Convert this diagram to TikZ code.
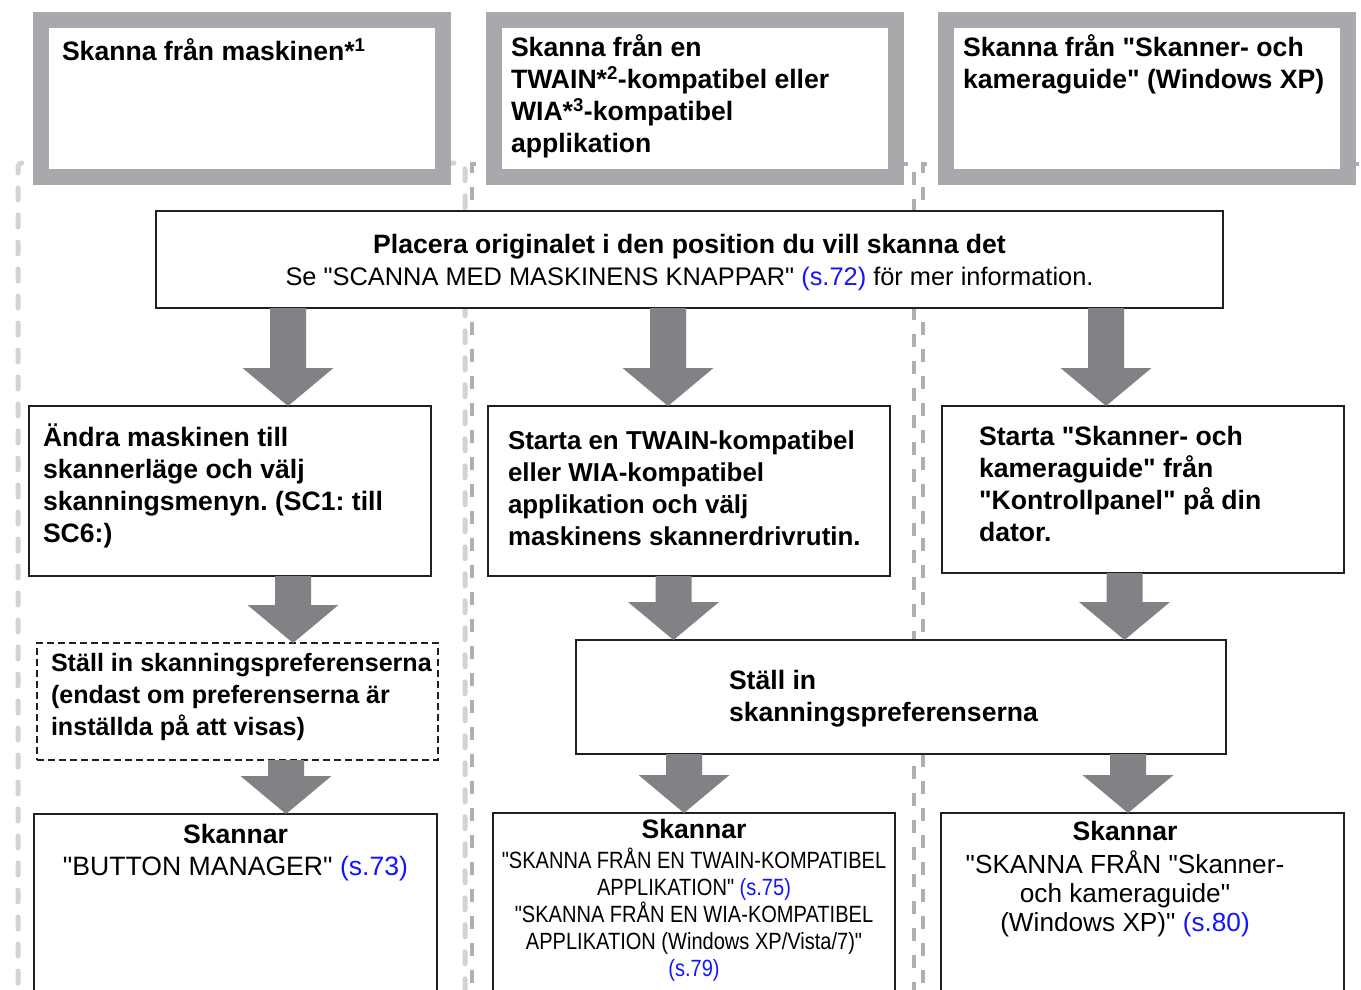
\documentclass[tikz,border=0pt]{standalone}
\usepackage{fontspec}
\setmainfont{Liberation Sans}
\newfontfamily\plainsans{Liberation Sans}
\newfontfamily\condfont[FakeStretch=0.853]{Liberation Sans}
\usetikzlibrary{calc}
\frenchspacing
\definecolor{framegray}{HTML}{A7A9AC}
\definecolor{arrowgray}{HTML}{808285}
\definecolor{boxline}{HTML}{231F20}
\definecolor{lightdash}{HTML}{D1D3D4}
\definecolor{middash}{HTML}{ADAFB2}
\definecolor{link}{RGB}{20,20,255}
\newcommand\fr{\plainsans\frenchspacing\fontsize{26.6}{32}\selectfont}
\newcommand\fb{\plainsans\frenchspacing\fontsize{26.6}{32}\selectfont\bfseries}
\newcommand\fbmid{\plainsans\frenchspacing\fontsize{25.9}{32}\selectfont\bfseries}
\newcommand\fbsmall{\plainsans\frenchspacing\fontsize{25.1}{32}\selectfont\bfseries}
\newcommand\fcond{\condfont\frenchspacing\fontsize{23.5}{27}\selectfont}
\newcommand\fnar{\plainsans\frenchspacing\fontsize{26.2}{29}\selectfont}
\newcommand\lnk[1]{\textcolor{link}{#1}}
\newcommand\blockarrow[3]{%
  \fill[arrowgray] let \p1=(#2.south), \p2=(#3.north) in
    (#1pt-18pt,\y1) -- (#1pt+18pt,\y1) -- (#1pt+18pt,\y2+38pt) -- (#1pt+45.5pt,\y2+38pt)
    -- (#1pt,\y2) -- (#1pt-45.5pt,\y2+38pt) -- (#1pt-18pt,\y2+38pt) -- cycle;}
\tikzset{
  frame/.style={draw=framegray, line width=16pt, fill=white, inner sep=0pt, outer sep=0pt},
  box/.style={draw=boxline, line width=2.5pt, fill=white, inner sep=0pt, outer sep=0pt},
  dashbox/.style={box, line width=2pt, dash pattern=on 7pt off 4pt},
  coldashA/.style={draw=lightdash, line width=5pt, line cap=round, dash pattern=on 12pt off 15pt, rounded corners=4pt},
  coldashB/.style={draw=middash, line width=4.5pt, dash pattern=on 13pt off 14pt},
  txt/.style={inner sep=0pt, outer sep=0pt, align=left, anchor=north west, font=\fb},
  ctxt/.style={inner sep=0pt, outer sep=0pt, align=center, anchor=north, font=\fr}
}
\begin{document}
\begin{tikzpicture}[x=1pt,y=-1pt]
\useasboundingbox (0,0) rectangle (1361,990);
\clip (0,0) rectangle (1361,990);
% column separators
\draw[coldashA] (18,1010) -- (18,163) -- (465,163) -- (465,1010);
\draw[coldashB] (472,1010) -- (472,164) -- (914,164) -- (914,1010);
\draw[coldashB] (923,1010) -- (923,164) -- (1372,164) -- (1372,1010);
% header frames
\node[frame, minimum width=402, minimum height=157] (h1) at (242,98.5) {};
\node[frame, minimum width=402, minimum height=157] (h2) at (695,98.5) {};
\node[frame, minimum width=402, minimum height=157] (h3) at (1147,98.5) {};
\node[txt] (h1t) at (62,38) {\strut Skanna från maskinen*\textsuperscript{1}};
\node[txt] (h2t) at (511,34) {\strut Skanna från en\\TWAIN*\textsuperscript{2}-kompatibel eller\\WIA*\textsuperscript{3}-kompatibel\\applikation};
\node[txt] (h3t) at (963,34) {\strut Skanna från "Skanner- och\\kameraguide" (Windows XP)};
% boxes
\node[box, minimum width=1067, minimum height=97] (p) at (689.5,259.5) {};
\node[box, minimum width=402, minimum height=170] (b1) at (230,491) {};
\node[box, minimum width=402, minimum height=170] (b2) at (689,491) {};
\node[box, minimum width=402, minimum height=167] (b3) at (1143,489.5) {};
\node[dashbox, minimum width=401, minimum height=117] (b4) at (237.5,701.5) {};
\node[box, minimum width=650, minimum height=114] (b5) at (901,697) {};
\node[box, minimum width=403, minimum height=186] (c1) at (235.5,907) {};
\node[box, minimum width=402, minimum height=187] (c2) at (694,906.5) {};
\node[box, minimum width=403, minimum height=187] (c3) at (1142.5,906.5) {};
% texts
\node[ctxt] (pt) at (689.5,231) {\strut\textbf{Placera originalet i den position du vill skanna det}\\\fontsize{25.4}{32}\selectfont Se "SCANNA MED MASKINENS KNAPPAR" \lnk{(s.72)} för mer information.};
\node[txt] (b1t) at (43,424) {\strut Ändra maskinen till\\skannerläge och välj\\skanningsmenyn. (SC1: till\\SC6:)};
\node[txt, font=\fbmid] (b2t) at (508,427.5) {\strut Starta en TWAIN-kompatibel\\eller WIA-kompatibel\\applikation och välj\\maskinens skannerdrivrutin.};
\node[txt] (b3t) at (979,423) {\strut Starta "Skanner- och\\kameraguide" från\\"Kontrollpanel" på din\\dator.};
\node[txt, font=\fbsmall] (b4t) at (51,649.5) {\strut Ställ in skanningspreferenserna\\(endast om preferenserna är\\inställda på att visas)};
\node[txt] (b5t) at (729,667) {\strut Ställ in\\skanningspreferenserna};
\node[ctxt] (c1t) at (235.5,821) {\strut\textbf{Skannar}\\"BUTTON MANAGER" \lnk{(s.73)}};
\node[ctxt, font=\fb] (c2h) at (694,816) {\strut Skannar};
\node[ctxt, font=\fcond] (c2t) at (694,847.5) {\strut"SKANNA FRÅN EN TWAIN-KOMPATIBEL\\APPLIKATION" \lnk{(s.75)}\\"SKANNA FRÅN EN WIA-KOMPATIBEL\\APPLIKATION (Windows XP/Vista/7)"\\\lnk{(s.79)}};
\node[ctxt, font=\fb] (c3h) at (1125,818) {\strut Skannar};
\node[ctxt, font=\fnar] (c3t) at (1125,850.5) {\strut"SKANNA FRÅN "Skanner-\\och kameraguide"\\(Windows XP)" \lnk{(s.80)}};
% block arrows
\blockarrow{288}{p}{b1}
\blockarrow{668}{p}{b2}
\blockarrow{1106}{p}{b3}
\blockarrow{293}{b1}{b4}
\blockarrow{673.5}{b2}{b5}
\blockarrow{1124.5}{b3}{b5}
\blockarrow{286}{b4}{c1}
\blockarrow{684}{b5}{c2}
\blockarrow{1128}{b5}{c3}
\end{tikzpicture}
\end{document}
